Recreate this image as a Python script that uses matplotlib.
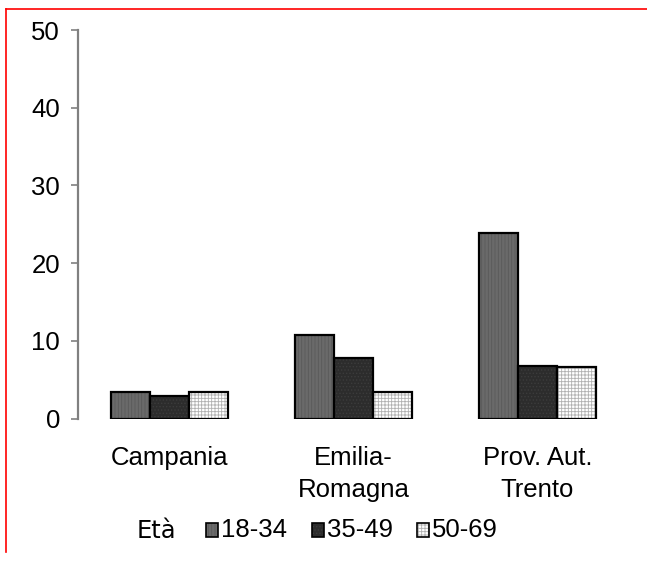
import matplotlib
matplotlib.use("Agg")
import matplotlib.pyplot as plt
from matplotlib.lines import Line2D
from matplotlib.patches import Rectangle
import numpy as np

regions = ["Campania", "Emilia-\nRomagna", "Prov. Aut.\nTrento"]
age_groups = ["18-34", "35-49", "50-69"]
val_18_34 = [3.45, 10.75, 23.9]
val_35_49 = [2.95, 7.8, 6.8]
val_50_69 = [3.45, 3.45, 6.6]

plt.rcParams['font.family'] = ['Liberation Sans', 'DejaVu Sans']
plt.rcParams['hatch.linewidth'] = 0.6

fig = plt.figure(figsize=(6.47, 5.61), dpi=100)
ax = fig.add_axes([0.1205, 0.254, 0.852, 0.6925])

x = np.arange(len(regions))
w = 0.2125
series = [val_18_34, val_35_49, val_50_69]
faces = ['#6a6a6a', '#2c2c2c', '#ffffff']
hatch_cols = ['#5a5a5a', '#3c3c3c', '#b0b0b0']
hatches = ['|||||', '.....', '+++++']

for i, vals in enumerate(series):
    pos = x + (i - 1) * w
    ax.bar(pos, vals, w, color=faces[i], hatch=hatches[i], edgecolor=hatch_cols[i], linewidth=0)
    ax.bar(pos, vals, w, facecolor='none', edgecolor='black', linewidth=1.6)

fs = 18.5
ax.set_xlim(-0.5, 2.5)
ax.set_ylim(0, 50)
ax.set_yticks([0, 10, 20, 30, 40, 50])
ax.tick_params(axis='y', labelsize=fs, length=5, width=1.2, color='#808080', direction='out', pad=8)
ax.tick_params(axis='x', length=0, labelsize=fs, pad=20)
ax.set_xticks(x)
ax.set_xticklabels(regions, linespacing=1.42)
for s in ['top', 'right', 'bottom']:
    ax.spines[s].set_visible(False)
ax.spines['left'].set_color('#808080')
ax.spines['left'].set_linewidth(1.6)

# legend row
fig.text(137 / 647, 1 - 531 / 561, "Età", fontsize=fs - 1, family='DejaVu Sans', va='center')
leg_x = [206, 312, 417]
for i, lab in enumerate(age_groups):
    px = leg_x[i]
    fig.patches.append(Rectangle((px / 647, 1 - 537 / 561), 12 / 647, 14 / 561,
                                 transform=fig.transFigure, facecolor=faces[i],
                                 hatch=hatches[i], edgecolor=hatch_cols[i], linewidth=0))
    fig.patches.append(Rectangle((px / 647, 1 - 537 / 561), 12 / 647, 14 / 561,
                                 transform=fig.transFigure, facecolor='none',
                                 edgecolor='black', linewidth=1.2))
    fig.text((px + 15) / 647, 1 - 530 / 561, lab, fontsize=fs, va='center')

# red frame on top and left
fig.add_artist(Line2D([6 / 647, 1], [1 - 9 / 561, 1 - 9 / 561], color='red', linewidth=1.2))
fig.add_artist(Line2D([6 / 647, 6 / 647], [1 - 9 / 561, 1 - 552 / 561], color='red', linewidth=1.2))

fig.savefig("out.png", dpi=100)
